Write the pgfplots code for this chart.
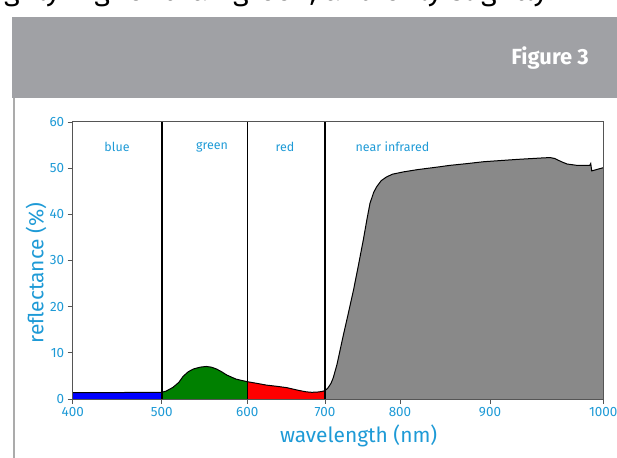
\documentclass[border=0pt]{standalone}
\usepackage{fontspec}
\setmainfont{Fira Sans}
\usepackage{pgfplots}
\pgfplotsset{compat=1.18}
\definecolor{esacyan}{HTML}{1E9AD6}
\definecolor{headgray}{HTML}{A0A1A5}
\definecolor{nirgray}{HTML}{898989}
\definecolor{framegray}{HTML}{555555}
\begin{document}
\begin{tikzpicture}
\useasboundingbox (0bp,0bp) rectangle (617bp,458bp);
% cut-off line of body text above the figure
\begin{scope}
  \clip (0bp,447bp) rectangle (617bp,458bp);
  \node[anchor=base west, inner sep=0pt, font=\fontsize{30}{30}\selectfont] at (4bp,457bp) {ghly higher than green, and only slightly};
\end{scope}
% header band
\fill[headgray] (12bp,360bp) rectangle (617bp,441bp);
\node[anchor=east, inner sep=0pt, text=white, font=\bfseries\fontsize{22}{22}\selectfont] at (589bp,400bp) {Figure 3};
\draw[line width=2.5bp, color=black!33] (14bp,0bp) -- (14bp,360bp);

\begin{axis}[
    scale only axis,
    width=530.6bp, height=277bp,
    at={(72.7bp,59bp)}, anchor=south west,
    xmin=400, xmax=1000, ymin=0, ymax=60,
    % the x scale of the original is not uniform: piecewise mapping
    x coord trafo/.code={\pgfmathparse{#1<500 ? (#1-400)*0.89 : (#1<600 ? 89+(#1-500)*0.856 : (#1<700 ? 174.6+(#1-600)*0.777 : (#1<800 ? 252.3+(#1-700)*0.75 : (#1<900 ? 327.3+(#1-800)*0.9 : 417.3+(#1-900)*1.133))))}},
    xtick={400,500,600,700,800,900,1000},
    xticklabels={400,500,600,700,800,900,1000},
    ytick={0,10,20,30,40,50,60},
    tick align=outside, xtick pos=bottom, ytick pos=left,
    major tick length=5bp,
    tick style={color=framegray, line width=0.9bp},
    axis line style={color=framegray, line width=1bp},
    ticklabel style={font=\fontsize{13.5}{13.5}\selectfont, text=esacyan},
    /pgf/number format/assume math mode=true,
    axis on top,
    xlabel={wavelength (nm)},
    ylabel={reflectance (\%)},
    every axis x label/.style={at={(rel axis cs:0.539,0)}, anchor=center, yshift=-37bp,
        font=\fontsize{21}{21}\selectfont, text=esacyan},
    every axis y label/.style={at={([xshift=-36.7bp]rel axis cs:0,0.455)}, anchor=center, rotate=90,
        font=\fontsize{21}{21}\selectfont, text=esacyan},
]
% blue band
\addplot[fill=blue, draw=none] coordinates {
  (400,1.4) (450,1.4) (500,1.45)
} \closedcycle;
% green band
\addplot[fill=green!50!black, draw=none] coordinates {
  (500,1.45) (505,1.7) (513,2.5) (520,3.6) (525,4.9) (531,5.9) (537,6.5)
  (545,6.9) (552,7.05) (558,6.9) (564,6.5) (570,5.9) (576,5.2) (582,4.7)
  (587,4.3) (594,4.0) (600,3.75)
} \closedcycle;
% red band
\addplot[fill=red, draw=none] coordinates {
  (600,3.75) (612,3.4) (625,3.0) (638,2.75) (651,2.45) (660,2.1) (668,1.8)
  (676,1.55) (683,1.45) (690,1.5) (695,1.6) (700,1.8)
} \closedcycle;
% near infrared
\addplot[fill=nirgray, draw=none] coordinates {
  (700,1.8) (704,2.4) (708,3.4) (711,4.6) (716,7.5) (720,10.5) (724,13.5)
  (731,18.5) (738,23.6) (744,28.5) (751,34.4) (756,39) (760,42.4) (765,44.8)
  (769,46) (775,47.3) (782,48.1) (790,48.7) (804,49.2) (820,49.7) (844,50.3)
  (855,50.6) (875,51.0) (893,51.4) (924,51.9) (945,52.2) (953,52.3) (957,52.1)
  (963,51.4) (968,50.9) (977,50.6) (988,50.6) (988.9,51.0) (989.8,49.4)
  (994,49.7) (1000,50.1)
} \closedcycle;
% reflectance curve
\addplot[black, line width=1bp] coordinates {
  (400,1.4) (450,1.4) (500,1.45)
  (505,1.7) (513,2.5) (520,3.6) (525,4.9) (531,5.9) (537,6.5)
  (545,6.9) (552,7.05) (558,6.9) (564,6.5) (570,5.9) (576,5.2) (582,4.7)
  (587,4.3) (594,4.0) (600,3.75)
  (612,3.4) (625,3.0) (638,2.75) (651,2.45) (660,2.1) (668,1.8)
  (676,1.55) (683,1.45) (690,1.5) (695,1.6) (700,1.8)
  (704,2.4) (708,3.4) (711,4.6) (716,7.5) (720,10.5) (724,13.5)
  (731,18.5) (738,23.6) (744,28.5) (751,34.4) (756,39) (760,42.4) (765,44.8)
  (769,46) (775,47.3) (782,48.1) (790,48.7) (804,49.2) (820,49.7) (844,50.3)
  (855,50.6) (875,51.0) (893,51.4) (924,51.9) (945,52.2) (953,52.3) (957,52.1)
  (963,51.4) (968,50.9) (977,50.6) (988,50.6) (988.9,51.0) (989.8,49.4)
  (994,49.7) (1000,50.1)
};
% band borders
\addplot[black, line width=1.6bp] coordinates {(500,0) (500,60)};
\addplot[black, line width=1.6bp] coordinates {(600,0) (600,60)};
\addplot[black, line width=1.6bp] coordinates {(700,0) (700,60)};
% band names
\node[font=\fontsize{12.5}{12.5}\selectfont, text=esacyan] at (rel axis cs:0.0835,0.91) {blue};
\node[font=\fontsize{12.5}{12.5}\selectfont, text=esacyan] at (rel axis cs:0.2625,0.91) {green};
\node[font=\fontsize{12.5}{12.5}\selectfont, text=esacyan] at (rel axis cs:0.40,0.91) {red};
\node[font=\fontsize{12.5}{12.5}\selectfont, text=esacyan] at (rel axis cs:0.6027,0.91) {near infrared};
\end{axis}
\end{tikzpicture}
\end{document}
